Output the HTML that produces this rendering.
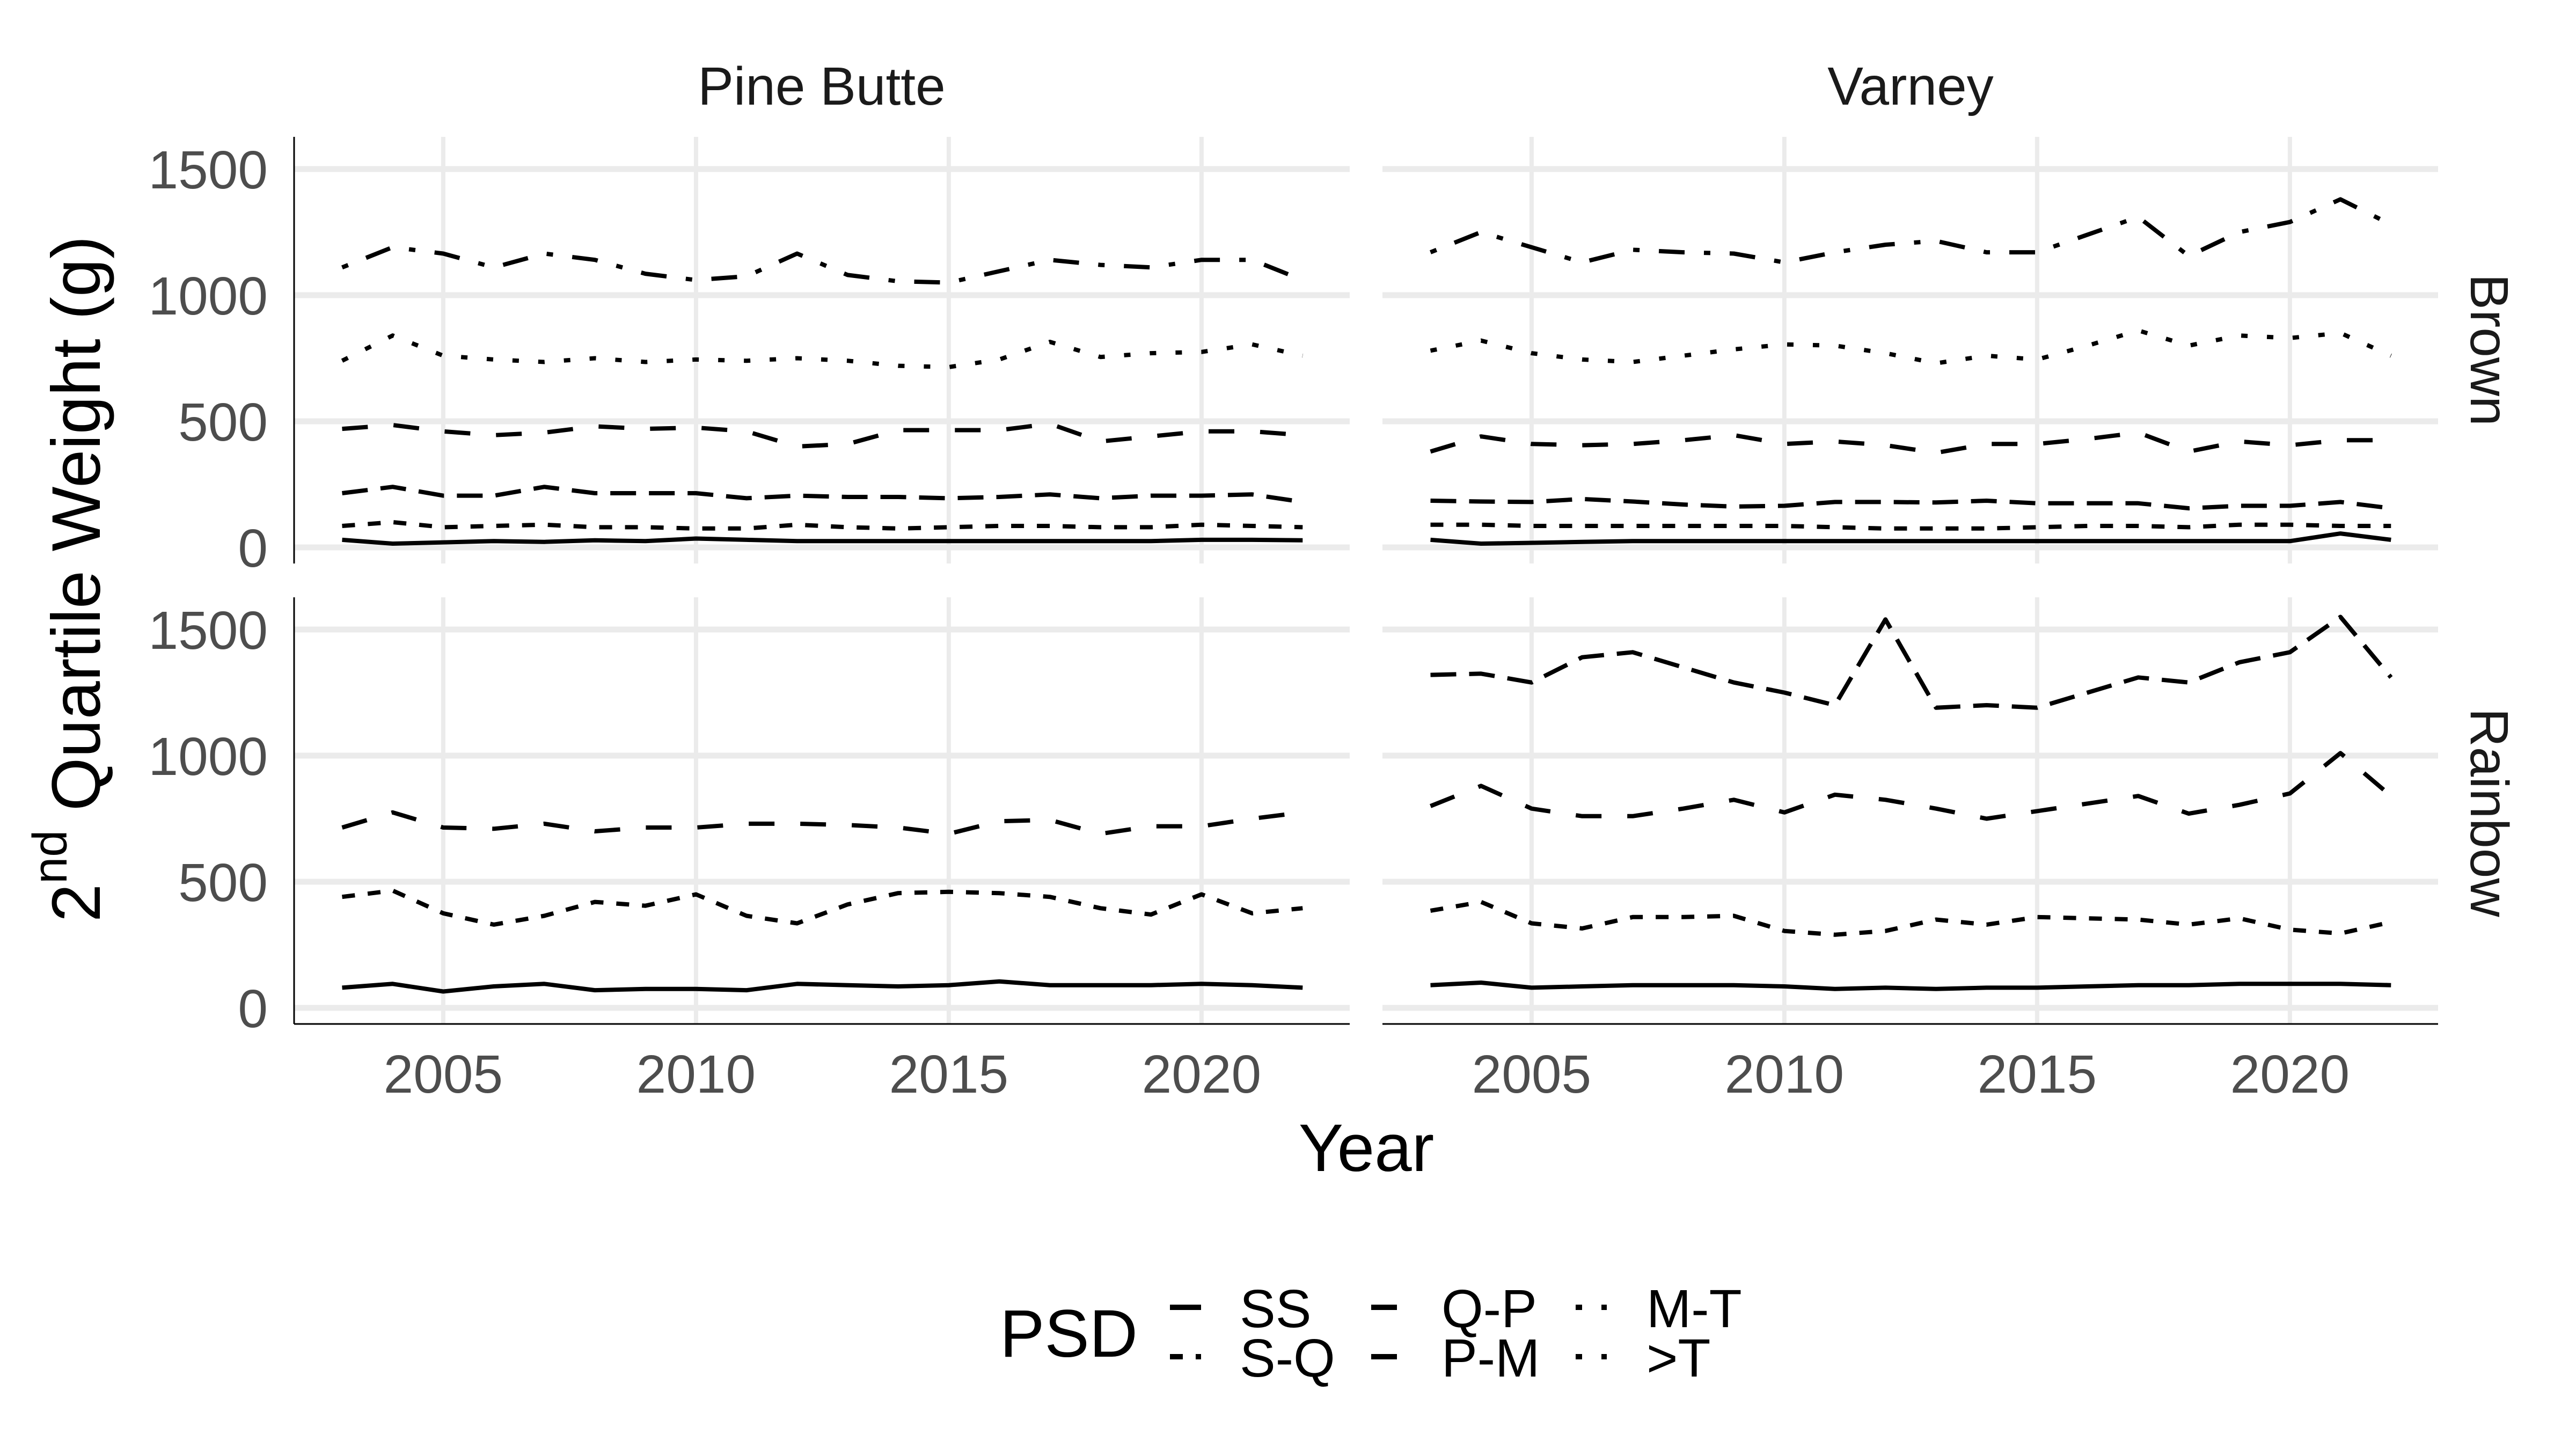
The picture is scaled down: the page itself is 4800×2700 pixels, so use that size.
<!DOCTYPE html>
<html><head><meta charset="utf-8">
<style>
html,body{margin:0;padding:0;background:#fff;}
svg{display:block;font-family:"Liberation Sans",Arial,sans-serif;}
</style></head>
<body>
<svg id="chart" xmlns="http://www.w3.org/2000/svg" width="4800" height="2700" viewBox="0 0 4800 2700">
<rect x="0" y="0" width="4800" height="2700" fill="#fff"/>
<g id="grid"></g>
<g id="series"></g>
<g id="axes"></g>
<text x="1531" y="195" text-anchor="middle" font-size="100" fill="#1a1a1a">Pine Butte</text>
<text x="3560" y="195" text-anchor="middle" font-size="100" fill="#1a1a1a">Varney</text>
<text transform="translate(4604,652) rotate(90)" text-anchor="middle" font-size="100" fill="#1a1a1a">Brown</text>
<text transform="translate(4604,1514) rotate(90)" text-anchor="middle" font-size="100" fill="#1a1a1a">Rainbow</text>
<text transform="translate(186,1718) rotate(-90)" font-size="128" fill="#000">2<tspan font-size="90" dy="-62">nd</tspan><tspan dy="62"> Quartile Weight (g)</tspan></text>
<text x="2546" y="2182" text-anchor="middle" font-size="125" fill="#000">Year</text>
<g id="legend">
<text x="1863" y="2528" font-size="125" fill="#000">PSD</text>
</g>
</svg>
<script>
const years = [2003,2004,2005,2006,2007,2008,2009,2010,2011,2012,2013,2014,2015,2016,2017,2018,2019,2020,2021,2022];
const xTicks = [2005,2010,2015,2020];
const yTicks = [0,500,1000,1500];
const psdLevels = ['SS','S-Q','Q-P','P-M','M-T','>T'];

const pbBrownSS = [30,15,20,25,22,28,25,35,30,25,25,25,25,25,25,25,25,30,30,28];
const pbBrownSQ = [85,100,80,85,90,80,80,75,75,90,80,75,80,85,85,80,80,90,85,80];
const pbBrownQP = [215,240,205,205,240,215,215,215,195,205,200,200,195,200,210,195,205,205,210,180];
const pbBrownPM = [470,485,460,445,455,480,470,475,460,400,410,465,465,465,490,420,440,460,460,445];
const pbBrownMT = [740,840,760,745,735,750,735,745,740,750,740,720,715,745,815,755,770,775,805,760];
const pbBrownGT = [1110,1190,1165,1110,1165,1140,1085,1060,1075,1165,1080,1055,1050,1095,1140,1120,1110,1140,1140,1060];

const vaBrownSS = [30,15,18,22,25,25,25,25,25,25,25,25,25,25,25,25,25,25,55,30];
const vaBrownSQ = [90,90,85,85,85,85,85,85,80,75,75,75,80,85,85,80,90,90,85,85];
const vaBrownQP = [185,182,180,192,182,170,162,165,180,180,178,185,175,175,175,155,165,165,180,155];
const vaBrownPM = [380,440,410,405,410,425,445,410,420,405,375,410,410,430,455,380,420,405,425,425];
const vaBrownMT = [780,820,770,745,735,760,785,805,800,770,730,760,745,800,860,800,840,830,850,760];
const vaBrownGT = [1170,1250,1190,1130,1180,1170,1165,1130,1170,1200,1215,1170,1170,1240,1310,1155,1250,1290,1380,1280];

const pbRainSS = [80,95,65,85,95,70,75,75,70,95,90,85,90,105,90,90,90,95,90,80];
const pbRainSQ = [440,465,375,330,365,420,405,450,365,335,410,455,460,455,440,395,370,450,375,395];
const pbRainPM = [715,775,715,710,730,700,715,715,730,730,725,715,690,740,745,690,720,720,750,775];

const vaRainSS = [90,100,80,85,90,90,90,85,75,80,75,80,80,85,90,90,95,95,95,90];
const vaRainSQ = [385,420,335,315,360,360,365,305,290,305,350,330,360,355,350,330,355,310,295,340];
const vaRainQP = [800,880,790,760,760,790,825,775,845,825,790,750,780,810,840,770,805,850,1010,840];
const vaRainPM = [1320,1325,1290,1390,1410,1350,1290,1250,1200,1540,1190,1200,1190,1250,1310,1290,1370,1410,1550,1310];

const U = 12;
const dashes = {'SS':null,'S-Q':[2*U,2*U],'Q-P':[4*U,2*U],'P-M':[4*U,4*U],'M-T':[U,3*U],'>T':[U,3*U,4*U,3*U]};
const NS = 'http://www.w3.org/2000/svg';

const panels = [
  {name:'pine-butte-brown', x0:548, x1:2515, zeroY:1020, top:255, bottom:1050, left:true, bottomAxis:false,
   series:[['SS',pbBrownSS],['S-Q',pbBrownSQ],['Q-P',pbBrownQP],['P-M',pbBrownPM],['M-T',pbBrownMT],['>T',pbBrownGT]]},
  {name:'varney-brown', x0:2576, x1:4543, zeroY:1020, top:255, bottom:1050, left:false, bottomAxis:false,
   series:[['SS',vaBrownSS],['S-Q',vaBrownSQ],['Q-P',vaBrownQP],['P-M',vaBrownPM],['M-T',vaBrownMT],['>T',vaBrownGT]]},
  {name:'pine-butte-rainbow', x0:548, x1:2515, zeroY:1878, top:1113, bottom:1908, left:true, bottomAxis:true,
   series:[['SS',pbRainSS],['S-Q',pbRainSQ],['P-M',pbRainPM]]},
  {name:'varney-rainbow', x0:2576, x1:4543, zeroY:1878, top:1113, bottom:1908, left:false, bottomAxis:true,
   series:[['SS',vaRainSS],['S-Q',vaRainSQ],['P-M',vaRainQP],['Q-P',vaRainPM]]}
];
const pxPerYear = 94.2, pxPerGram = 705/1500;

const grid = document.getElementById('grid');
const ser = document.getElementById('series');
const axes = document.getElementById('axes');

function mk(tag, attrs, parent){
  const e = document.createElementNS(NS, tag);
  for (const k in attrs) e.setAttribute(k, attrs[k]);
  parent.appendChild(e); return e;
}

panels.forEach(p => {
  const xs = yr => p.x0 + (yr - 2002.05) * pxPerYear;
  const ys = v => p.zeroY - v * pxPerGram;
  yTicks.forEach(t => {
    const l = mk('line', {x1:p.x0, x2:p.x1, y1:ys(t), y2:ys(t), stroke:'#ebebeb', 'stroke-width':11}, grid);
    
    
  });
  xTicks.forEach(t => {
    const l = mk('line', {x1:xs(t), x2:xs(t), y1:p.top, y2:p.bottom, stroke:'#ebebeb', 'stroke-width':8}, grid);
    
    
  });
  p.series.forEach(([lvl, vals]) => {
    const d = vals.map((v,i) => (i ? 'L' : 'M') + xs(years[i]).toFixed(1) + ',' + ys(v).toFixed(1)).join('');
    const attrs = {d:d, fill:'none', stroke:'#000', 'stroke-width':8, 'stroke-linejoin':'round'};
    if (dashes[lvl]) attrs['stroke-dasharray'] = dashes[lvl].join(',');
    const path = mk('path', attrs, ser);
    
    
  });
  if (p.left) {
    const a = mk('line', {x1:p.x0, x2:p.x0, y1:p.top, y2:p.bottom, stroke:'#000', 'stroke-width':3}, axes);
    
    
    yTicks.forEach(t => {
      const tx = mk('text', {x:499, y:ys(t)+36, 'text-anchor':'end', 'font-size':100, fill:'#4d4d4d'}, axes);
      tx.textContent = String(t);
      
      
    });
  }
  if (p.bottomAxis) {
    const a = mk('line', {x1:p.x0, x2:p.x1, y1:p.bottom, y2:p.bottom, stroke:'#000', 'stroke-width':3}, axes);
    
    
    xTicks.forEach(t => {
      const tx = mk('text', {x:xs(t), y:2036, 'text-anchor':'middle', 'font-size':100, fill:'#4d4d4d'}, axes);
      tx.textContent = String(t);
      
      
    });
  }
});

// legend
const leg = document.getElementById('legend');
const legCols = [[2180,2310],[2555,2686],[2936,3068]];
const legRows = [[2436,2473],[2528,2565]];
const legOrder = [['SS',0,0],['S-Q',0,1],['Q-P',1,0],['P-M',1,1],['M-T',2,0],['>T',2,1]];
legOrder.forEach(([lvl,c,r]) => {
  const attrs = {x1:legCols[c][0], x2:legCols[c][0]+58, y1:legRows[r][0], y2:legRows[r][0], stroke:'#000', 'stroke-width':10};
  if (dashes[lvl]) attrs['stroke-dasharray'] = dashes[lvl].join(',');
  const k = mk('line', attrs, leg);
  
  
  const t = mk('text', {x:legCols[c][1], y:legRows[r][1], 'font-size':100, fill:'#000'}, leg);
  t.textContent = lvl;
  
  
});
</script>
</body></html>
